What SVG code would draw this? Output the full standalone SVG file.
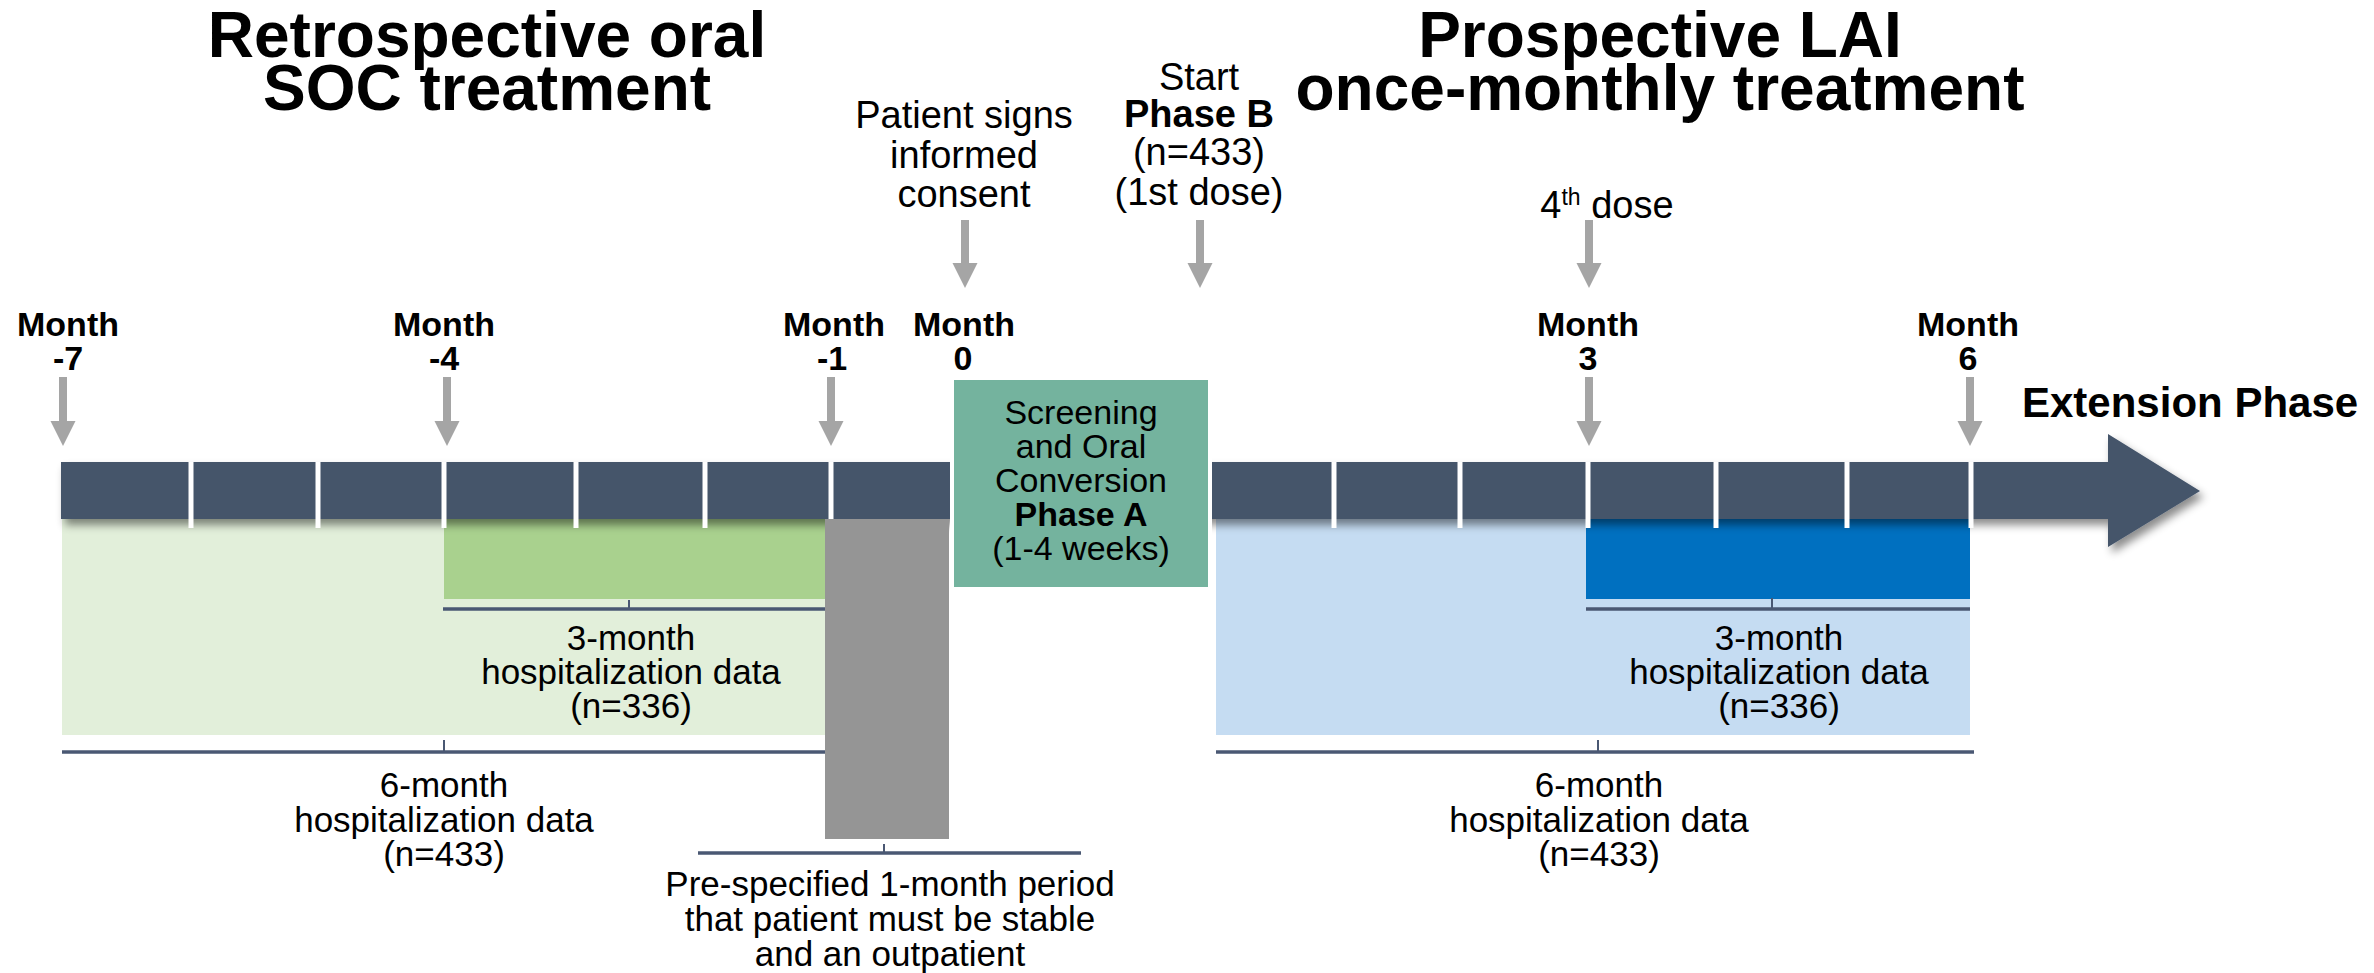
<svg xmlns="http://www.w3.org/2000/svg" width="2374" height="973" viewBox="0 0 2374 973">
<defs>
<style>
text{font-family:"Liberation Sans",Arial,Helvetica,sans-serif;fill:#000}
.title{font-size:64px;font-weight:bold;text-anchor:middle}
.month{font-size:34px;font-weight:bold;text-anchor:middle}
.lbl{font-size:38px;text-anchor:middle}
.body{font-size:35px;text-anchor:middle}
.b{font-weight:bold}
.arrow{fill:#A5A5A5}
.sep{stroke:#FFFFFF;stroke-width:5}
.brk{stroke:#4A5873;stroke-width:3.5;fill:none}
.tick{stroke:#4A5873;stroke-width:2;fill:none}
</style>
<filter id="sh" x="-5%" y="-30%" width="110%" height="180%">
<feDropShadow dx="4" dy="6" stdDeviation="4" flood-color="#000" flood-opacity="0.45"/>
</filter>
</defs>
<rect width="2374" height="973" fill="#FFFFFF"/>

<g id="regions">
<rect id="retro6" x="62" y="519" width="763" height="216" fill="#E2EFDA"/>
<rect id="retro3" x="444" y="519" width="381" height="80" fill="#A9D18E"/>
<rect id="pros6" x="1216" y="519" width="754" height="216" fill="#C5DCF2"/>
<rect id="pros3" x="1586" y="519" width="384" height="80" fill="#0070C0"/>
</g>

<g id="timeline">
<path d="M61,462 H2108 V434 L2200,491 L2108,547 V519 H61 Z" fill="#44546A" filter="url(#sh)"/>
<g class="sep">
<line x1="191" y1="462" x2="191" y2="528"/>
<line x1="318" y1="462" x2="318" y2="528"/>
<line x1="444" y1="462" x2="444" y2="528"/>
<line x1="576" y1="462" x2="576" y2="528"/>
<line x1="705" y1="462" x2="705" y2="528"/>
<line x1="831" y1="462" x2="831" y2="528"/>
<line x1="1334" y1="462" x2="1334" y2="528"/>
<line x1="1460" y1="462" x2="1460" y2="528"/>
<line x1="1588" y1="462" x2="1588" y2="528"/>
<line x1="1716" y1="462" x2="1716" y2="528"/>
<line x1="1847" y1="462" x2="1847" y2="528"/>
<line x1="1971" y1="462" x2="1971" y2="528"/>
</g>
</g>

<g id="brackets">
<line class="brk" x1="443" y1="609" x2="826" y2="609"/>
<line class="tick" x1="629" y1="600" x2="629" y2="609"/>
<line class="brk" x1="62" y1="752" x2="830" y2="752"/>
<line class="tick" x1="444" y1="740" x2="444" y2="752"/>
<line class="brk" x1="1586" y1="609" x2="1970" y2="609"/>
<line class="tick" x1="1772" y1="598" x2="1772" y2="609"/>
<line class="brk" x1="1216" y1="752" x2="1974" y2="752"/>
<line class="tick" x1="1598" y1="740" x2="1598" y2="752"/>
<line class="brk" x1="698" y1="853" x2="1081" y2="853"/>
<line class="tick" x1="884" y1="844" x2="884" y2="853"/>
</g>

<g id="stable-period">
<rect x="825" y="519" width="124" height="320" fill="#959595"/>
</g>

<g id="phaseA">
<rect x="954" y="380" width="254" height="207" fill="#74B39E" stroke="#FFFFFF" stroke-width="8" paint-order="stroke"/>
<rect x="954" y="380" width="254" height="207" fill="#74B39E"/>
<text class="body" style="font-size:34px"><tspan x="1081" y="424">Screening</tspan><tspan x="1081" y="458">and Oral</tspan><tspan x="1081" y="492">Conversion</tspan><tspan x="1081" y="526" class="b">Phase A</tspan><tspan x="1081" y="560">(1-4 weeks)</tspan></text>
</g>

<g id="titles">
<text class="title"><tspan x="487" y="57">Retrospective oral</tspan><tspan x="487" y="110">SOC treatment</tspan></text>
<text class="title"><tspan x="1660" y="57">Prospective LAI</tspan><tspan x="1660" y="110">once-monthly treatment</tspan></text>
</g>

<g id="month-labels">
<text class="month"><tspan x="68" y="336">Month</tspan><tspan x="68" y="370">-7</tspan></text>
<text class="month"><tspan x="444" y="336">Month</tspan><tspan x="444" y="370">-4</tspan></text>
<text class="month"><tspan x="834" y="336">Month</tspan><tspan x="832" y="370">-1</tspan></text>
<text class="month"><tspan x="964" y="336">Month</tspan><tspan x="963" y="370">0</tspan></text>
<text class="month"><tspan x="1588" y="336">Month</tspan><tspan x="1588" y="370">3</tspan></text>
<text class="month"><tspan x="1968" y="336">Month</tspan><tspan x="1968" y="370">6</tspan></text>
</g>

<g id="event-labels">
<text class="lbl"><tspan x="964" y="128">Patient signs</tspan><tspan x="964" y="168">informed</tspan><tspan x="964" y="207">consent</tspan></text>
<text class="lbl"><tspan x="1199" y="90">Start</tspan><tspan x="1199" y="127" class="b">Phase B</tspan><tspan x="1199" y="165">(n=433)</tspan><tspan x="1199" y="205">(1st dose)</tspan></text>
<text class="lbl" x="1607" y="218">4<tspan font-size="23" baseline-shift="super">th</tspan> dose</text>
<text x="2022" y="417" style="font-size:42px;font-weight:bold">Extension Phase</text>
</g>

<g id="data-labels">
<text class="body"><tspan x="631" y="650">3-month</tspan><tspan x="631" y="684">hospitalization data</tspan><tspan x="631" y="718">(n=336)</tspan></text>
<text class="body"><tspan x="444" y="797">6-month</tspan><tspan x="444" y="832">hospitalization data</tspan><tspan x="444" y="866">(n=433)</tspan></text>
<text class="body"><tspan x="1779" y="650">3-month</tspan><tspan x="1779" y="684">hospitalization data</tspan><tspan x="1779" y="718">(n=336)</tspan></text>
<text class="body"><tspan x="1599" y="797">6-month</tspan><tspan x="1599" y="832">hospitalization data</tspan><tspan x="1599" y="866">(n=433)</tspan></text>
<text class="body"><tspan x="890" y="896">Pre-specified 1-month period</tspan><tspan x="890" y="931">that patient must be stable</tspan><tspan x="890" y="966">and an outpatient</tspan></text>
</g>

<g id="connectors">
<path class="arrow" d="M59,377 H67 V421 H75.5 L63,446 L50.5,421 H59 Z"/>
<path class="arrow" d="M443,377 H451 V421 H459.5 L447,446 L434.5,421 H443 Z"/>
<path class="arrow" d="M827,377 H835 V421 H843.5 L831,446 L818.5,421 H827 Z"/>
<path class="arrow" d="M1585,377 H1593 V421 H1601.5 L1589,446 L1576.5,421 H1585 Z"/>
<path class="arrow" d="M1966,377 H1974 V421 H1982.5 L1970,446 L1957.5,421 H1966 Z"/>
<path class="arrow" d="M961,220 H969 V263 H977.5 L965,288 L952.5,263 H961 Z"/>
<path class="arrow" d="M1196,220 H1204 V263 H1212.5 L1200,288 L1187.5,263 H1196 Z"/>
<path class="arrow" d="M1585,220 H1593 V263 H1601.5 L1589,288 L1576.5,263 H1585 Z"/>
</g>
</svg>
